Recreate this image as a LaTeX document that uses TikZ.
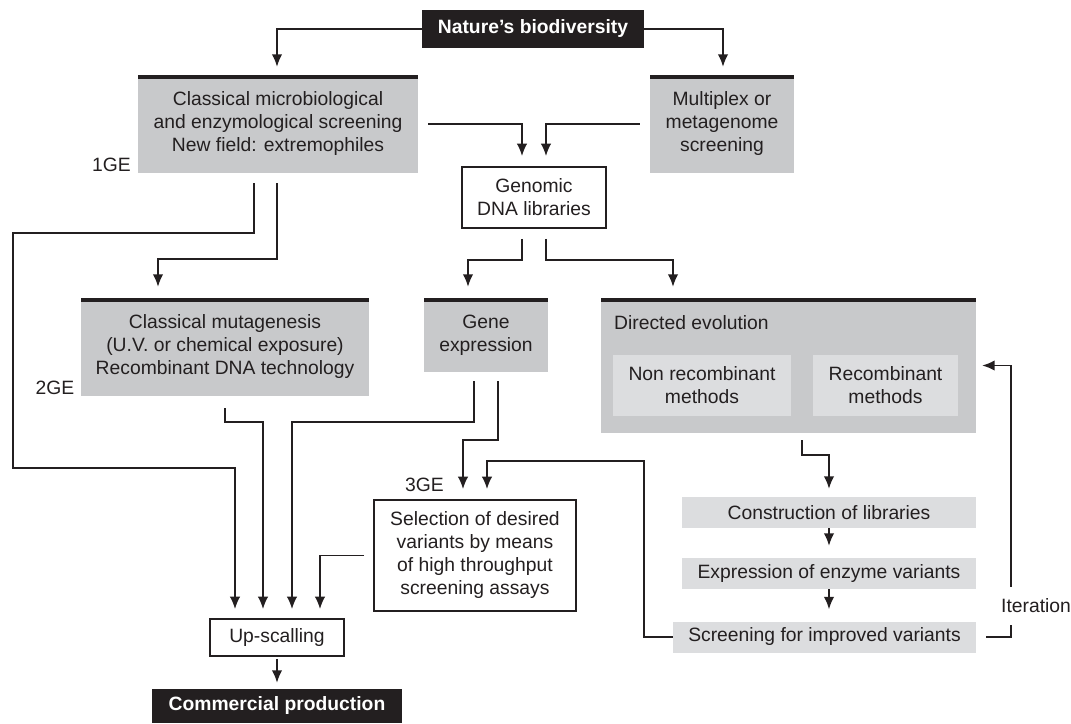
\documentclass[tikz,border=0pt]{standalone}
\usepackage{fontspec}
\setmainfont{Liberation Sans}
\usetikzlibrary{calc}
\usepgflibrary{arrows.meta}
\definecolor{ink}{HTML}{231F20}
\definecolor{boxgray}{HTML}{C8C9CB}
\definecolor{subgray}{HTML}{DCDDDF}

\begin{document}
\begin{tikzpicture}[x=1pt,y=-1pt,
        every node/.style={font=\fontsize{19.3}{23}\selectfont,text=ink,inner sep=0pt,align=center},
        arr/.style={ink,line width=1.7pt,-{Latex[length=12.5pt,width=10.5pt]}},
        blackbox/.style={fill=ink,text=white,font=\fontsize{19.3}{23}\selectfont\bfseries},
        graybox/.style={fill=boxgray,path picture={\fill[ink] (path picture bounding box.north west) rectangle ([yshift=-3.5pt]path picture bounding box.north east);}},
        whitebox/.style={draw=ink,line width=1.7pt,fill=white},
        stepbox/.style={fill=subgray,minimum width=294pt,minimum height=31pt}]
        \useasboundingbox (0,0) rectangle (1071,723);
        %first generation
            \node [blackbox,minimum width=222pt,minimum height=38pt] (nature) at (533,29) {Nature’s biodiversity};
            \node [graybox,minimum width=280pt,minimum height=98pt] (micro) at (278,124) {Classical microbiological\\and enzymological screening\\New field: extremophiles};
            \node [graybox,minimum width=144pt,minimum height=98pt] (multi) at (722,124) {Multiplex or\\metagenome\\screening};
            \node [whitebox,minimum width=144pt,minimum height=61pt] (genomic) at (534,197.5) {Genomic\\DNA libraries};
            \node (gen1) at (111.5,165) {1GE};
        %second generation
            \node [graybox,minimum width=288pt,minimum height=98pt] (mutag) at (225,347) {Classical mutagenesis\\(U.V. or chemical exposure)\\Recombinant DNA technology};
            \node [graybox,minimum width=124pt,minimum height=74pt] (gene) at (486,335) {Gene\\expression};
            \node (gen2) at (55,388) {2GE};
        %directed evolution
            \node [graybox,minimum width=375pt,minimum height=135pt] (direv) at (788.5,365.5) {};
            \node [anchor=west] (dirtitle) at (614,323) {Directed evolution};
            \node [fill=subgray,minimum width=178pt,minimum height=61pt] (nonrec) at (702,385.5) {Non recombinant\\methods};
            \node [fill=subgray,minimum width=145pt,minimum height=61pt] (recomb) at (885.5,385.5) {Recombinant\\methods};
            \node [stepbox] (constr) at (829,512.5) {Construction of libraries};
            \node [stepbox] (exprs) at (829,573.5) {Expression of enzyme variants};
            \node [stepbox,minimum width=303pt] (screen) at (824.5,637) {Screening for improved variants};
        %third generation, production
            \node [whitebox,minimum width=202pt,minimum height=111pt] (select) at (475,555.5) {Selection of desired\\variants by means\\of high throughput\\screening assays};
            \node (gen3) at (424.5,485) {3GE};
            \node [whitebox,minimum width=134pt,minimum height=37pt] (upscal) at (277,637.5) {Up-scalling};
            \node [blackbox,minimum width=250pt,minimum height=34pt] (commer) at (277,706) {Commercial production};
        %arrows top
            \draw [arr] (nature.west) -| ($(micro.north)+(-1,-8)$);
            \draw [arr] (nature.east) -| ($(multi.north)+(1,-8)$);
            \draw [arr] ($(micro.east)+(10,0)$) -| ($(genomic.north)+(-12,-10)$);
            \draw [arr] ($(multi.west)+(-10,0)$) -| ($(genomic.north)+(12,-10)$);
        %arrows middle
            \draw [arr] ($(micro.south)+(-24,10)$) |- (13,233) |- (235,468) -- ($(upscal.north)+(-42,-9)$);
            \draw [arr] ($(micro.south)+(-1,10)$) -- ++(0,76) -| ($(mutag.north)+(-67,-11)$);
            \draw [arr] ($(genomic.south)+(-12,10)$) -- ++(0,21) -| ($(gene.north)+(-18,-11)$);
            \draw [arr] ($(genomic.south)+(12,10)$) -- ++(0,21) -| ($(direv.north)+(-115.5,-11)$);
        %arrows bottom
            \draw [arr] ($(mutag.south)+(0,12)$) -- ++(0,14) -| ($(upscal.north)+(-14,-9)$);
            \draw [arr] ($(gene.south)+(-12,9)$) -- ++(0,41) -| ($(upscal.north)+(15,-9)$);
            \draw [arr] ($(gene.south)+(12,9)$) -- ++(0,59) -| ($(select.north)+(-12,-10)$);
            \draw [arr] ($(select.west)+(-9,0)$) -| ($(upscal.north)+(43,-9)$);
            \draw [arr] ($(upscal.south)+(0,2)$) -- ($(commer.north)+(0,-6)$);
            \draw [arr] ($(direv.south)+(13.5,7)$) -- ++(0,15) -| ($(constr.north)+(0,-8)$);
            \draw [arr] (constr.south) -- ($(exprs.north)+(0,-12)$);
            \draw [arr] (exprs.south) -- ($(screen.north)+(4.5,-12)$);
            \draw [arr] (screen.west) -- ++(-29,0) -- ++(0,-176) -| ($(select.north)+(12,-10)$);
            \draw [arr] ($(screen.east)+(10,0)$) -- ++(25,0) |- ($(direv.east)+(6,0)$);
            \node [fill=white,inner ysep=12pt,inner xsep=2pt] (iter) at (1036,606) {Iteration};
    \end{tikzpicture}
\end{document}
